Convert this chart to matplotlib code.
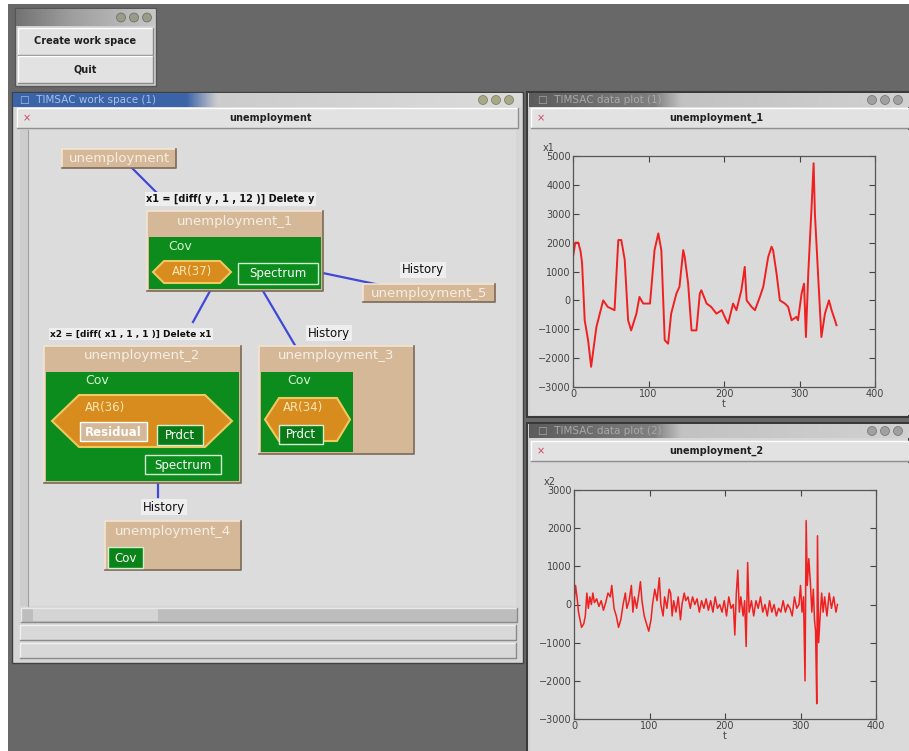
import matplotlib.pyplot as plt
import matplotlib.patches as mp
import numpy as np

t1 = [0, 3, 7, 10, 12, 15.5, 20, 24, 31, 40, 46, 55, 60, 64, 68.5, 73, 77, 84, 88, 93,
      102, 108, 113, 117, 121.5, 126, 130, 137, 141, 146, 148, 152.5, 157, 163.5, 168, 170,
      177, 183, 190, 197, 203, 205.5, 212, 216.5, 223, 227.5, 230, 236.5, 241, 247.5, 252,
      258.5, 263, 265, 269.6, 274, 280.7, 285, 289.5, 296, 298, 302.8, 306, 308.5, 311.6,
      316, 318.7, 320.4, 325, 329, 333.7, 339, 342.5, 347, 349]
x1 = [1500, 2000, 2000, 1700, 1300, -690, -1380, -2300, -920, 0, -225, -340, 2090, 2090,
      1400, -690, -1040, -460, 120, -110, -110, 1740, 2320, 1740, -1380, -1500, -460, 240,
      470, 1740, 1500, 580, -1040, -1040, 240, 350, -110, -225, -460, -340, -690, -800,
      -110, -340, 350, 1160, 0, -225, -340, 120, 470, 1500, 1860, 1740, 930, 0, -110, -225,
      -690, -570, -690, 240, 580, -1270, 930, 3240, 4750, 3000, 700, -1270, -460, 0, -340,
      -690, -860]

t2 = [0, 2, 4, 6, 8, 10, 13, 15, 17, 19, 21, 23, 25, 27, 30, 33, 36, 39, 42, 45, 48, 50,
      53, 56, 59, 62, 65, 68, 70, 73, 76, 78, 80, 83, 86, 88, 90, 93, 96, 99, 102, 104, 107,
      110, 113, 115, 118, 120, 123, 126, 128, 130, 132, 135, 138, 141, 143, 146, 148, 151,
      154, 157, 160, 163, 166, 169, 172, 175, 178, 181, 184, 187, 190, 193, 196, 199, 202,
      205, 208, 211, 213, 215, 217, 219, 221, 224, 226, 228, 230, 232, 235, 238, 241, 244,
      247, 250, 253, 256, 259, 262, 265, 268, 271, 274, 277, 280, 283, 286, 289, 292, 295,
      298, 300, 302, 304, 306, 307.5, 309, 311, 313, 315, 317, 318.5, 320, 321.5, 322.5,
      324, 326, 328, 330, 332, 335, 338, 341, 344, 347, 349]
x2 = [0, 500, 200, -200, -400, -600, -500, -300, 300, -100, 200, 0, 300, 50, 150, -50, 100,
      -150, 50, 300, 200, 500, -100, -300, -600, -400, 0, 300, -100, 100, 500, -200, 200,
      -100, 300, 600, 100, -300, -500, -700, -400, 0, 400, 100, 700, 0, -300, 200, -100,
      400, 300, -300, 100, -200, 200, -400, 0, 300, 100, 200, -100, 200, 0, 150, -200, 100,
      -100, 150, -150, 100, -200, 200, -100, 0, -200, 100, -300, 200, -100, 0, -800, 300,
      900, -200, 200, -300, 100, -1100, 1100, -200, 100, -300, 100, -100, 200, -200, 0,
      -300, 100, -200, 0, -300, -100, -200, 100, -200, 0, -100, -300, 200, -100, 0, 500,
      -200, 200, -2000, 2200, 500, 1200, 600, -200, 400, -400, -700, -2600, 1800, -1000,
      -300, 300, -200, 200, -300, 300, -100, 200, -200, 0]

W, H = 909, 751
fig = plt.figure(figsize=(W/100, H/100), dpi=100)
bg = fig.add_axes([0, 0, 1, 1])
bg.set_xlim(0, W)
bg.set_ylim(H, 0)
bg.axis('off')

def rect(x0, y0, x1_, y1_, fc, ec='none', lw=1, z=1):
    bg.add_patch(mp.Rectangle((x0, y0), x1_-x0, y1_-y0, fc=fc, ec=ec, lw=lw, zorder=z))

def grad(x0, y0, x1_, y1_, cols, stops, z=2):
    xs = np.linspace(0, 1, 200)
    img = np.zeros((1, 200, 3))
    for c in range(3):
        img[0, :, c] = np.interp(xs, stops, [col[c] for col in cols])
    bg.imshow(img, extent=(x0, x1_, y1_, y0), aspect='auto', zorder=z)

def bevel(x0, y0, x1_, y1_, light, dark, z=3, lw=1):
    bg.plot([x0, x0, x1_], [y1_, y0, y0], color=light, lw=lw, zorder=z)
    bg.plot([x0, x1_, x1_], [y1_, y1_, y0], color=dark, lw=lw, zorder=z)

# desktop
rect(0, 0, W, H, 'white', z=0)
rect(8, 4, W, H, '#686868', z=0)

# ---- small launcher window ----
rect(15, 8, 156, 86, '#cfcfcf', ec='#555555', z=1)
grad(16, 9, 155, 26, [(0.45, 0.45, 0.45), (0.62, 0.62, 0.62), (0.78, 0.78, 0.78)], [0, 0.4, 1])
for cx in [121, 134, 147]:
    bg.add_patch(mp.Circle((cx, 17.5), 4.5, fc='#9a9a8a', ec='#6a6a5a', lw=0.5, zorder=3))
rect(18, 28, 153, 55, '#e2e2e2', z=2)
bevel(18, 28, 153, 55, 'white', '#8a8a8a')
rect(18, 56, 153, 83, '#e2e2e2', z=2)
bevel(18, 56, 153, 83, 'white', '#8a8a8a')
bg.text(85, 41.5, 'Create work space', fontsize=7, fontweight='bold', ha='center', va='center', color='#202020', zorder=4)
bg.text(85, 69.5, 'Quit', fontsize=7, fontweight='bold', ha='center', va='center', color='#202020', zorder=4)

# ---- main work space window ----
rect(12, 92, 523, 663, '#d6d6d6', ec='#404040', z=1)
grad(13, 93, 522, 107, [(0.23, 0.39, 0.66), (0.23, 0.39, 0.66), (0.80, 0.80, 0.80), (0.86, 0.86, 0.86)],
     [0, 0.34, 0.4, 1])
bg.text(20, 100, '\u25a1  TIMSAC work space (1)', fontsize=7.5, color='#a8c0e8', va='center', zorder=4)
for cx in [483, 496, 509]:
    bg.add_patch(mp.Circle((cx, 100), 4.5, fc='#a8a888', ec='#787860', lw=0.5, zorder=3))
rect(17, 108, 518, 128, '#e2e2e2', z=2)
bevel(17, 108, 518, 128, 'white', '#909090')
bg.text(27, 118, '\u00d7', fontsize=7, color='#d04060', ha='center', va='center', zorder=4)
bg.text(270, 118, 'unemployment', fontsize=7, fontweight='bold', ha='center', va='center', color='#202020', zorder=4)
# canvas
rect(20, 130, 516, 606, '#dcdcdc', z=2)
rect(20, 130, 28, 606, '#cdcdcd', z=2)
bg.plot([28, 28], [130, 606], color='#a0a0a0', lw=0.8, zorder=3)
# scrollbar
rect(21, 608, 517, 622, '#bdbdbd', z=2)
rect(33, 609, 158, 621, '#d4d4d4', z=3)
bevel(21, 608, 517, 622, '#e8e8e8', '#8a8a8a')
# status bars
rect(20, 625, 516, 640, '#d8d8d8', z=2)
bevel(20, 625, 516, 640, '#f0f0f0', '#8a8a8a')
rect(20, 643, 516, 658, '#d8d8d8', z=2)
bevel(20, 643, 516, 658, '#f0f0f0', '#8a8a8a')

# ---- work space graph ----
TAN = '#d4b898'
GREEN = '#0b8c1c'
ORANGE = '#d88c1e'
LINE = '#4048d8'
HEAD = '#f6eee2'

def link(p, q):
    bg.plot([p[0], q[0]], [p[1], q[1]], color=LINE, lw=1.6, zorder=3)

def tan_box(x0, y0, x1_, y1_, label, hy):
    rect(x0, y0, x1_, y1_, TAN, z=4)
    bevel(x0, y0, x1_, y1_, '#f4e4d0', '#7a6a5a', z=5, lw=1.2)
    bg.text((x0+x1_)/2, hy, label, fontsize=9.5, color=HEAD, ha='center', va='center', zorder=6)

def green(x0, y0, x1_, y1_):
    rect(x0, y0, x1_, y1_, GREEN, z=5)

def hexagon(xl, xil, xir, xr, yt, yb):
    ym = (yt+yb)/2
    pts = [(xl, ym), (xil, yt), (xir, yt), (xr, ym), (xir, yb), (xil, yb)]
    bg.add_patch(mp.Polygon(pts, closed=True, fc=ORANGE, ec='#f0c860', lw=1.5, zorder=6))

def small_box(x0, y0, x1_, y1_, text, fc, tc='white', ec='#d0f0d0'):
    rect(x0, y0, x1_, y1_, fc, ec=ec, lw=1, z=7)
    bg.text((x0+x1_)/2, (y0+y1_)/2+0.5, text, fontsize=8.5, color=tc, ha='center', va='center',
            zorder=8, fontweight='bold' if fc == TAN else 'normal')

def label(x, y, text, size=7, bold=True):
    bg.text(x, y, text, fontsize=size, fontweight='bold' if bold else 'normal', color='#101010',
            ha='left', va='center', zorder=6,
            bbox=dict(boxstyle='square,pad=0.15', fc='#eeeeee', ec='none'))

# links
link((132, 168), (157, 193))
link((318, 272), (380, 285))
link((210, 291), (193, 322))
link((263, 291), (296, 347))
link((158, 482), (158, 497))

# unemployment (root)
tan_box(62, 149, 176, 168, 'unemployment', 158.5)

# unemployment_1
label(146, 199, 'x1 = [diff( y , 1 , 12 )] Delete y')
tan_box(147, 211, 323, 291, 'unemployment_1', 221)
green(149, 237, 321, 289)
bg.text(168, 246.5, 'Cov', fontsize=9, color='#d8f8d0', va='center', zorder=7)
hexagon(153, 164, 220, 231, 261, 283)
bg.text(192, 272, 'AR(37)', fontsize=8.5, color='#f8e8b8', ha='center', va='center', zorder=7)
small_box(238, 263, 318, 284, 'Spectrum', GREEN)

label(402, 270, 'History', size=8.5, bold=False)
tan_box(363, 284, 495, 302, 'unemployment_5', 293)

# unemployment_2
label(50, 334, 'x2 = [diff( x1 , 1 , 1 )] Delete x1', size=6.5)
tan_box(44, 346, 241, 483, 'unemployment_2', 356)
green(46, 372, 239, 481)
bg.text(85, 381, 'Cov', fontsize=9, color='#d8f8d0', va='center', zorder=7)
hexagon(52, 79, 205, 232, 395, 447)
bg.text(85, 407, 'AR(36)', fontsize=8.5, color='#f8e8b8', va='center', zorder=7)
small_box(80, 422, 147, 441, 'Residual', TAN, tc='white', ec='white')
small_box(157, 425, 203, 445, 'Prdct', '#0a7a18')
small_box(145, 455, 221, 474, 'Spectrum', GREEN)

# unemployment_3
label(308, 333, 'History', size=8.5, bold=False)
tan_box(259, 346, 414, 454, 'unemployment_3', 356)
green(261, 372, 353, 452)
bg.text(287, 381, 'Cov', fontsize=9, color='#d8f8d0', va='center', zorder=7)
hexagon(265, 279, 337, 350, 398, 441)
bg.text(283, 408, 'AR(34)', fontsize=8.5, color='#f8e8b8', va='center', zorder=7)
small_box(279, 425, 323, 444, 'Prdct', '#0a7a18')

# unemployment_4
label(143, 507, 'History', size=8.5, bold=False)
tan_box(105, 521, 241, 570, 'unemployment_4', 531)
small_box(108, 547, 143, 568, 'Cov', '#0a8418')

# ---- plot windows ----
def plot_window(y0, y1_, title_y, name, num):
    rect(527, y0, W, y1_, '#d6d6d6', ec='#3a3a3a', lw=1.5, z=1)
    grad(529, y0+1, W, y0+15, [(0.36, 0.36, 0.36), (0.50, 0.50, 0.50), (0.76, 0.76, 0.76), (0.82, 0.82, 0.82)],
         [0, 0.33, 0.4, 1])
    bg.text(538, y0+8, '\u25a1  TIMSAC data plot (%d)' % num, fontsize=7.5, color='#a8a8a8', va='center', zorder=4)
    for cx in [872, 885, 898]:
        bg.add_patch(mp.Circle((cx, y0+8), 4.5, fc='#a0a0a0', ec='#707070', lw=0.5, zorder=3))
    rect(531, title_y-10, W, title_y+10, '#e2e2e2', z=2)
    bevel(531, title_y-10, W+2, title_y+10, 'white', '#909090')
    bg.text(541, title_y, '\u00d7', fontsize=7, color='#d04060', ha='center', va='center', zorder=4)
    bg.text(716, title_y, name, fontsize=7, fontweight='bold', ha='center', va='center', color='#202020', zorder=4)
    rect(531, title_y+12, W, y1_-2, '#dadada', z=2)

plot_window(92, 417, 118, 'unemployment_1', 1)
plot_window(423, H+2, 451, 'unemployment_2', 2)

def data_axes(left, top, right, bottom, t, x, ymin, ymax, yticks, ylab, lw):
    ax = fig.add_axes([left/W, 1-bottom/H, (right-left)/W, (bottom-top)/H])
    ax.set_facecolor('#dadada')
    ax.plot(t, x, color='#f02020', lw=lw)
    ax.set_xlim(0, 400)
    ax.set_ylim(ymin, ymax)
    ax.set_xticks([0, 100, 200, 300, 400])
    ax.set_yticks(yticks)
    ax.tick_params(direction='in', top=True, right=True, length=4, width=0.8,
                   labelsize=7, colors='#444444', pad=1.5)
    for s in ax.spines.values():
        s.set_color('#555555')
        s.set_linewidth(0.9)
    ax.set_xlabel('t', fontsize=7, color='#444444', labelpad=0)
    ax.text(-0.1, 1.02, ylab, transform=ax.transAxes, fontsize=7, color='#444444')
    return ax

data_axes(573, 156, 875, 387, t1, x1, -3000, 5000, range(-3000, 5001, 1000), 'x1', 1.4)
data_axes(574, 490, 876, 719, t2, x2, -3000, 3000, range(-3000, 3001, 1000), 'x2', 1.1)

fig.savefig('out.png', dpi=100)
